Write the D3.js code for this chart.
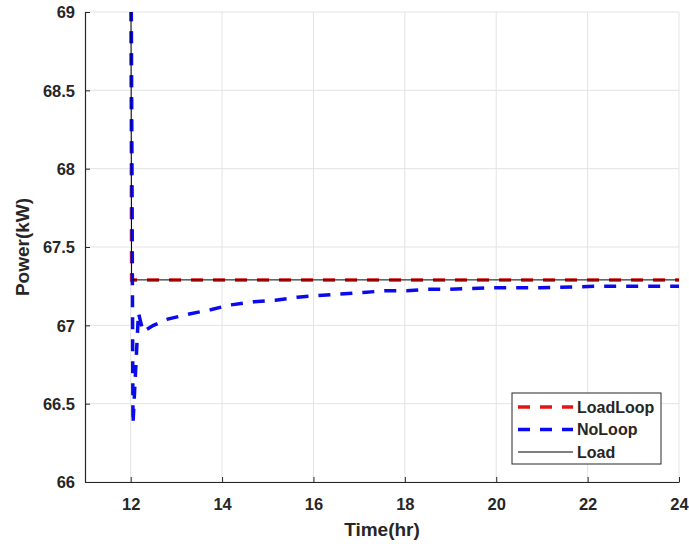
<!DOCTYPE html>
<html>
<head>
<meta charset="utf-8">
<script src="https://cdn.jsdelivr.net/npm/d3@7"></script>
<style>
  html, body { margin: 0; padding: 0; background: #ffffff; }
  svg { display: block; }
  text { font-family: "Liberation Sans", Arial, Helvetica, sans-serif; font-weight: bold; fill: #262626; }
</style>
</head>
<body>
<div id="chart"></div>
<script>
// Power response after the 12 h step: load-following loop, no loop, and the load itself
const loadLoopTime  = [12.0, 12.02, 24.0];
const loadLoopPower = [70.0, 67.29, 67.29];

const noLoopTime  = [12.0, 12.05, 12.17, 12.27, 12.5, 12.81, 13.25, 13.75, 14.18, 14.69, 15.17, 15.65,
                     16.10, 16.58, 17.09, 17.56, 18.04, 18.50, 18.98, 19.92, 20.95, 22.32, 23.78, 24.0];
const noLoopPower = [70.0, 66.37, 67.08, 66.96, 67.00, 67.04, 67.07, 67.10, 67.13, 67.15, 67.16, 67.18,
                     67.19, 67.20, 67.21, 67.22, 67.22, 67.23, 67.23, 67.24, 67.24, 67.25, 67.25, 67.25];

const loadTime  = [12.0, 12.02, 24.0];
const loadPower = [70.0, 67.29, 67.29];

const xTicks = [12, 14, 16, 18, 20, 22, 24];
const yTicks = [66, 66.5, 67, 67.5, 68, 68.5, 69];
const seriesNames = ["LoadLoop", "NoLoop", "Load"];

const W = 689, H = 544;
const margin = { left: 85, right: 10, top: 12, bottom: 62 };
const plotW = W - margin.left - margin.right;
const plotH = H - margin.top - margin.bottom;

const svg = d3.select("#chart").append("svg").attr("width", W).attr("height", H);

const x = d3.scaleLinear().domain([11, 24]).range([0, plotW]);
const y = d3.scaleLinear().domain([66, 69]).range([plotH, 0]);

const g = svg.append("g").attr("transform", `translate(${margin.left},${margin.top})`);

g.append("defs").append("clipPath").attr("id", "plot-clip")
  .append("rect").attr("width", plotW).attr("height", plotH);

// grid
const gridColor = "#e3e3e3";
g.append("g").selectAll("line").data(xTicks).join("line")
  .attr("x1", d => x(d)).attr("x2", d => x(d))
  .attr("y1", 0).attr("y2", plotH)
  .attr("stroke", gridColor).attr("stroke-width", 1);
g.append("g").selectAll("line").data(yTicks).join("line")
  .attr("x1", 0).attr("x2", plotW)
  .attr("y1", d => y(d)).attr("y2", d => y(d))
  .attr("stroke", gridColor).attr("stroke-width", 1);

// series
const line = d3.line().x(d => x(d[0])).y(d => y(d[1]));
const lines = g.append("g").attr("clip-path", "url(#plot-clip)");

const series = [
  { name: seriesNames[0], t: loadLoopTime, p: loadLoopPower, color: "#e31414", width: 3.5, dash: "12,10" },
  { name: seriesNames[1], t: noLoopTime,   p: noLoopPower,   color: "#0a0aec", width: 3.5, dash: "12,10" },
  { name: seriesNames[2], t: loadTime,     p: loadPower,     color: "#000000", width: 1,   dash: null }
];

series.forEach(s => {
  lines.append("path")
    .datum(d3.zip(s.t, s.p))
    .attr("d", line)
    .attr("fill", "none")
    .attr("stroke", s.color)
    .attr("stroke-width", s.width)
    .attr("stroke-dasharray", s.dash);
});

// axes
const axisColor = "#262626";
const xAxis = g.append("g").attr("transform", `translate(0,${plotH})`)
  .call(d3.axisBottom(x).tickValues(xTicks).tickSizeInner(-5).tickSizeOuter(0).tickPadding(16));
const yAxis = g.append("g")
  .call(d3.axisLeft(y).tickValues(yTicks).tickSizeInner(-5).tickSizeOuter(0).tickPadding(10)
    .tickFormat(d3.format("")));

[xAxis, yAxis].forEach(a => {
  a.select(".domain").attr("stroke", axisColor).attr("stroke-width", 1.2);
  a.selectAll(".tick line").attr("stroke", axisColor);
  a.selectAll(".tick text")
    .attr("font-family", "'Liberation Sans', Arial, sans-serif")
    .attr("font-weight", "bold")
    .attr("font-size", 16.5)
    .attr("fill", axisColor);
});
xAxis.selectAll(".tick text").attr("dy", "0.71em");
yAxis.selectAll(".tick text").attr("dy", "0.35em");

// axis labels
svg.append("text")
  .attr("x", margin.left + plotW / 2).attr("y", 536)
  .attr("text-anchor", "middle").attr("font-size", 19)
  .text("Time(hr)");
svg.append("text")
  .attr("transform", `translate(29,${margin.top + plotH / 2}) rotate(-90)`)
  .attr("text-anchor", "middle").attr("font-size", 19)
  .text("Power(kW)");

// legend
const legend = svg.append("g").attr("transform", "translate(512,393)");
legend.append("rect")
  .attr("width", 149).attr("height", 71)
  .attr("fill", "#ffffff").attr("stroke", axisColor).attr("stroke-width", 1);
series.forEach((s, i) => {
  const cy = 14 + i * 22.5;
  legend.append("line")
    .attr("x1", 6).attr("x2", 61).attr("y1", cy).attr("y2", cy)
    .attr("stroke", s.color).attr("stroke-width", s.width)
    .attr("stroke-dasharray", s.dash);
  legend.append("text")
    .attr("x", 65).attr("y", cy).attr("dy", "0.35em")
    .attr("font-size", 16)
    .text(s.name);
});
</script>
</body>
</html>
